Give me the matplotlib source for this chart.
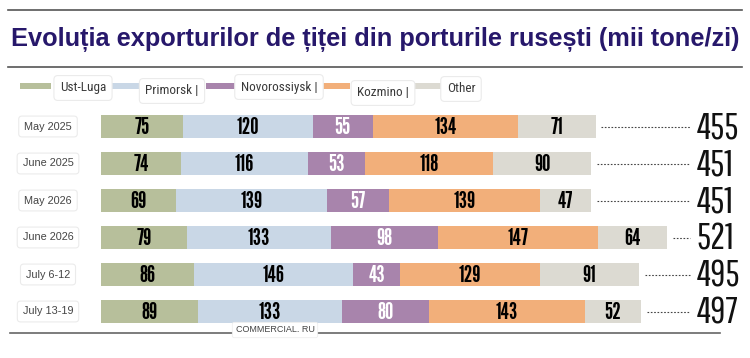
import matplotlib.pyplot as plt
import matplotlib.transforms as mtransforms
from matplotlib.patches import Rectangle

# date (mii tone/zi)
perioade = ["May 2025", "June 2025", "May 2026", "June 2026", "July 6-12", "July 13-19"]
porturi = ["Ust-Luga", "Primorsk |", "Novorossiysk |", "Kozmino |", "Other"]
ust_luga = [75, 74, 69, 79, 86, 89]
primorsk = [120, 116, 139, 133, 146, 133]
novorossiysk = [55, 53, 57, 98, 43, 80]
kozmino = [134, 118, 139, 147, 129, 143]
other = [71, 90, 47, 64, 91, 52]
totaluri = [455, 451, 451, 521, 495, 497]

culori = ["#b7bf9b", "#c9d7e6", "#a884ac", "#f2af7a", "#dcdad2"]
culori_text = ["black", "black", "white", "black", "black"]

cond = ["League Gothic", "Oswald", "DejaVu Sans"]
cond_subtire = ["Pathway Gothic One", "League Gothic", "DejaVu Sans"]
narrow = ["Roboto Condensed", "Archivo Narrow", "DejaVu Sans"]

fig = plt.figure(figsize=(7.5, 3.58), dpi=100)
W, H = 750, 358
px_per_unit = 1.087
x0_px = 101
ax = fig.add_axes([x0_px / W, (H - 330) / H, (W - x0_px) / W, 222 / H])
ax.set_xlim(0, (W - x0_px) / px_per_unit)
ax.set_ylim(5.5, -0.5)
ax.axis("off")

serii = [ust_luga, primorsk, novorossiysk, kozmino, other]
left = [0] * len(perioade)
for serie, c, ct in zip(serii, culori, culori_text):
    ax.barh(range(len(perioade)), serie, left=left, height=0.6, color=c, linewidth=0)
    for i, v in enumerate(serie):
        ax.text(left[i] + v / 2, i + 0.02, str(v), ha="center", va="center",
                fontsize=17, color=ct, family=cond)
    left = [a + b for a, b in zip(left, serie)]

# linii punctate si totaluri
x_end = (690 - x0_px) / px_per_unit
for i, t in enumerate(totaluri):
    ax.plot([t + 5, x_end], [i, i], color="#444444", linestyle=(0, (1.5, 1.5)),
            linewidth=0.8, clip_on=False)
    ax.text(x_end + 6, i + 0.05, str(t), ha="left", va="center", fontsize=27,
            family=cond_subtire, color="#111111", clip_on=False)

# etichete perioade in casute albe
trans = mtransforms.blended_transform_factory(fig.transFigure, ax.transData)
for i, p in enumerate(perioade):
    ax.text(48 / W, i, p, transform=trans, ha="center", va="center", fontsize=7.8,
            color="#444444", family="Liberation Sans",
            bbox=dict(boxstyle="round,pad=0.5,rounding_size=0.3", fc="white",
                      ec="#ebebeb", lw=0.8))

# titlu si linii orizontale
fig.add_artist(plt.Line2D([8 / W, 742 / W], [1 - 10 / H, 1 - 10 / H], color="#555555", lw=1.2))
fig.add_artist(plt.Line2D([8 / W, 742 / W], [1 - 67 / H, 1 - 67 / H], color="#555555", lw=1.2))
fig.add_artist(plt.Line2D([10 / W, 720 / W], [1 - 333 / H, 1 - 333 / H], color="#666666", lw=1.2))
fig.text(375 / W, 1 - 40 / H, "Evoluția exporturilor de țiței din porturile rusești (mii tone/zi)",
         ha="center", va="center", fontsize=18.3, fontweight="bold", color="#27186b",
         family="Liberation Sans")

# legenda
sw_x = [20, 111, 206, 319, 413]
lab_x = [83, 172, 279, 383, 461]
lab_y = [88, 91, 87, 93, 89]
for sx, lx, ly, c, nume in zip(sw_x, lab_x, lab_y, culori, porturi):
    fig.add_artist(Rectangle((sx / W, 1 - 89 / H), 31 / W, 6 / H, transform=fig.transFigure,
                             color=c, lw=0))
    fig.text(lx / W, 1 - ly / H, nume, ha="center", va="center", fontsize=9.5,
             color="#3a3a3a", family=narrow,
             bbox=dict(boxstyle="round,pad=0.45,rounding_size=0.3", fc="white",
                       ec="#ebebeb", lw=0.8))

# sursa
fig.text(275 / W, 1 - 330 / H, "COMMERCIAL. RU", ha="center", va="center", fontsize=6.5,
         color="#444444", family="Liberation Sans",
         bbox=dict(boxstyle="round,pad=0.35,rounding_size=0.2", fc="white", ec="#eeeeee", lw=0.6))

fig.savefig("out.png", dpi=100, facecolor="white")
